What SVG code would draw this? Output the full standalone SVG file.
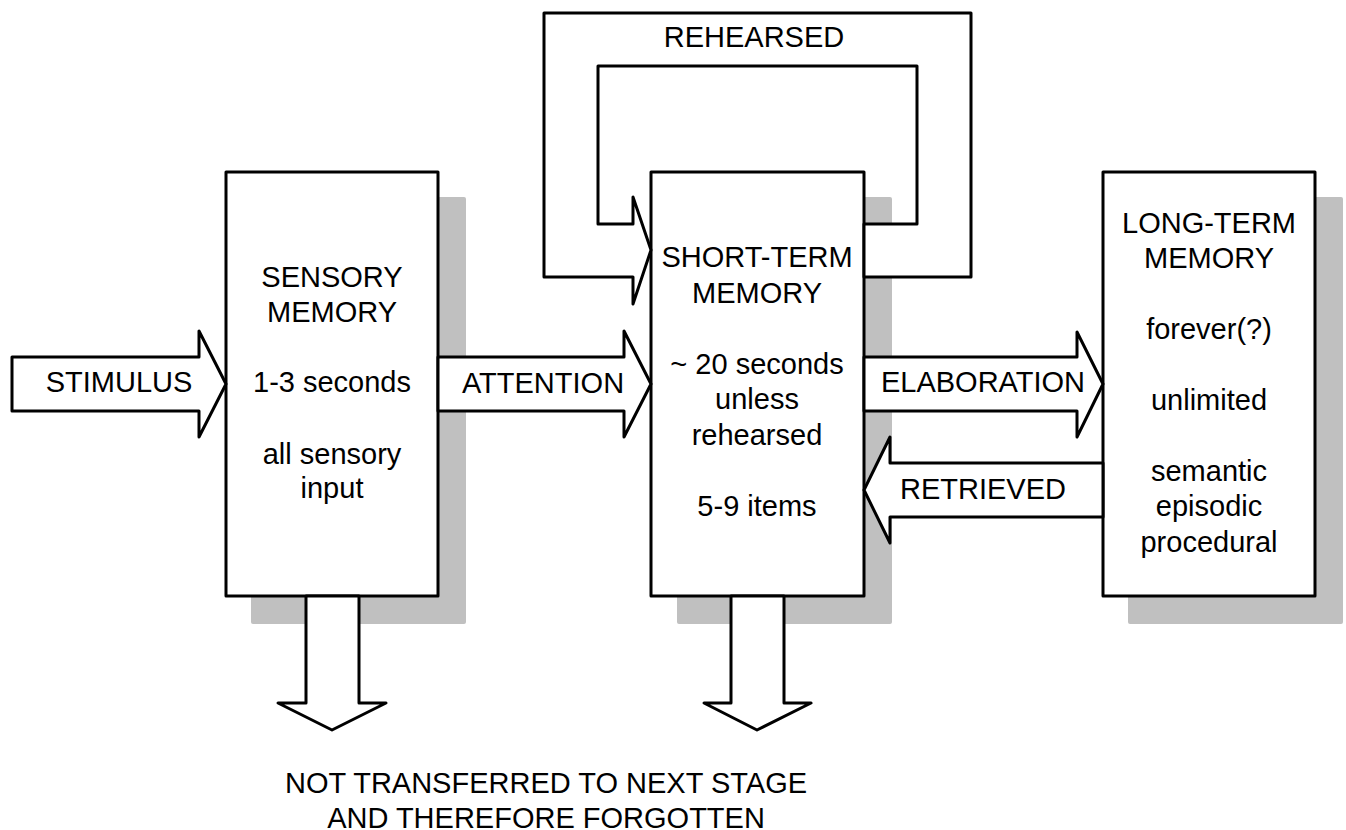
<svg xmlns="http://www.w3.org/2000/svg" width="1346" height="830" viewBox="0 0 1346 830">
<style>
.shadow{fill:#c0c0c0;stroke:none}
.box{fill:#fff;stroke:#000;stroke-width:3;stroke-linejoin:round}
.arrow{fill:#fff;stroke:#000;stroke-width:3;stroke-linejoin:round}
text{font-family:"Liberation Sans",Arial,sans-serif;font-size:29px;fill:#000;text-anchor:middle}
</style>
<rect width="1346" height="830" fill="#fff"/>
<g id="shadows">
<rect class="shadow" x="251" y="197" width="215" height="427" rx="2"/>
<rect class="shadow" x="677" y="197" width="215" height="427" rx="2"/>
<rect class="shadow" x="1128" y="197" width="215" height="427" rx="2"/>
</g>
<g id="sensory">
<rect class="box" x="226" y="172" width="212" height="424"/>
<text x="332" y="287">SENSORY</text>
<text x="332" y="322">MEMORY</text>
<text x="332" y="392">1-3 seconds</text>
<text x="332" y="464">all sensory</text>
<text x="332" y="498">input</text>
</g>
<g id="shortterm">
<rect class="box" x="651" y="172" width="213" height="424"/>
<text x="757" y="267">SHORT-TERM</text>
<text x="757" y="303">MEMORY</text>
<text x="757" y="374">~ 20 seconds</text>
<text x="757" y="409">unless</text>
<text x="757" y="445">rehearsed</text>
<text x="757" y="516">5-9 items</text>
</g>
<g id="longterm">
<rect class="box" x="1103" y="172" width="212" height="424"/>
<text x="1209" y="233">LONG-TERM</text>
<text x="1209" y="268">MEMORY</text>
<text x="1209" y="339">forever(?)</text>
<text x="1209" y="410">unlimited</text>
<text x="1209" y="481">semantic</text>
<text x="1209" y="516">episodic</text>
<text x="1209" y="552">procedural</text>
</g>
<g id="connectors">
<g id="stimulus">
<polygon class="arrow" points="226,384 199,331 199,357 12,357 12,411 199,411 199,437"/>
<text x="119" y="392">STIMULUS</text>
</g>
<g id="attention">
<polygon class="arrow" points="651,384 624,331 624,357 438,357 438,411 624,411 624,437"/>
<text x="543" y="393">ATTENTION</text>
</g>
<g id="elaboration">
<polygon class="arrow" points="1103,384 1077,332 1077,357 864,357 864,411 1077,411 1077,437"/>
<text x="983" y="392">ELABORATION</text>
</g>
<g id="retrieved">
<polygon class="arrow" points="864,490 890,437 890,463 1103,463 1103,517 890,517 890,543"/>
<text x="983" y="499">RETRIEVED</text>
</g>
<g id="rehearsed">
<polygon class="arrow" points="864,224 917,224 917,66 598,66 598,224 633,224 633,197 651,250 633,304 633,277 544,277 544,13 971,13 971,277 864,277"/>
<text x="754" y="47">REHEARSED</text>
</g>
<g id="forget-sensory">
<polygon class="arrow" points="306,596 306,703 278,703 332,730 386,703 359,703 359,596"/>
</g>
<g id="forget-shortterm">
<polygon class="arrow" points="731,596 731,703 704,703 757,730 811,703 784,703 784,596"/>
</g>
</g>
<g id="forgotten-label">
<text x="546" y="793">NOT TRANSFERRED TO NEXT STAGE</text>
<text x="546" y="828">AND THEREFORE FORGOTTEN</text>
</g>
</svg>
